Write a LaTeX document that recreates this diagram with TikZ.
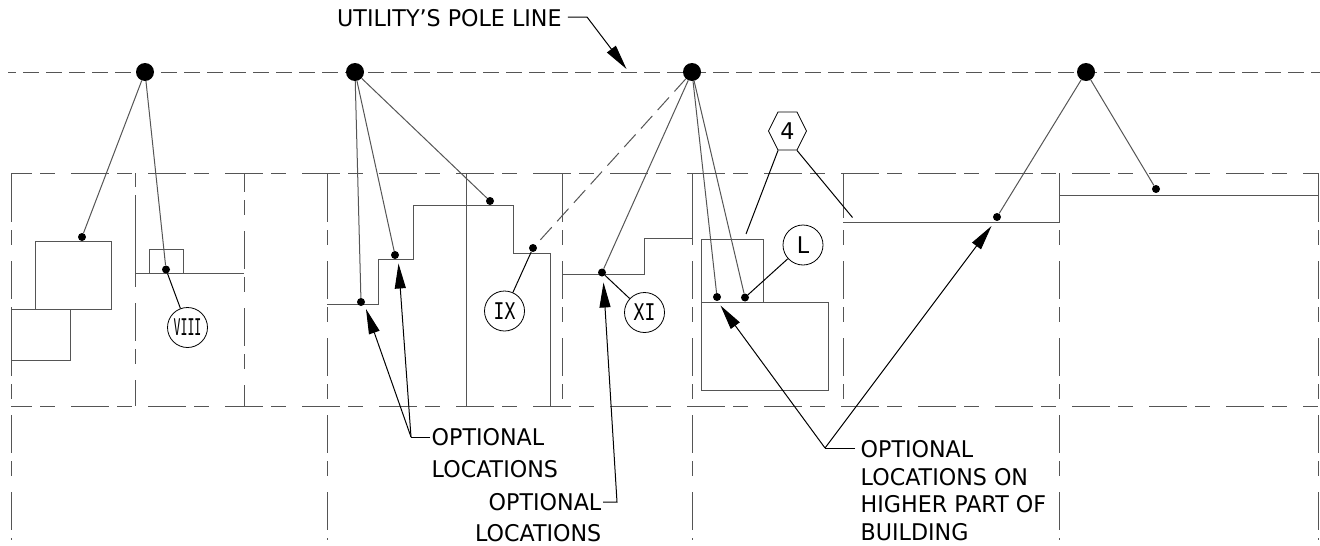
\documentclass[tikz,border=0pt]{standalone}
\usepackage{fontspec}
\setmainfont{DejaVu Sans}[FakeStretch=0.965]
\newfontfamily\numfont{DejaVu Sans Mono}
\usetikzlibrary{arrows.meta,shapes.symbols}
\definecolor{linegray}{HTML}{555555}
\tikzset{
    pole/.style={circle,fill=black,minimum size=18pt,inner sep=0},
    tap/.style={circle,fill=black,minimum size=8pt,inner sep=0},
    tagc/.style={circle,draw=black,thick,minimum size=40pt,inner sep=0,font=\fontsize{23}{23}\selectfont},
    taghex/.style={signal,signal to=west and east,signal pointer angle=127,draw=black,thick,minimum width=38pt,minimum height=38pt,inner sep=0,font=\fontsize{23}{23}\selectfont},
    note/.style={inner sep=0,font=\fontsize{23}{31.5}\selectfont},
    part/.style={draw=linegray,line width=1pt},
    wire/.style={draw=linegray,line width=1pt},
    lead/.style={draw=black,line width=1pt},
    tipped/.style={lead,-{Triangle[length=25pt,width=11pt]}},
    bldg/.style={draw=linegray,line width=1pt,dash pattern=on 38pt off 8pt on 15pt off 16pt}
}

\begin{document}
\begin{tikzpicture}[x=1pt,y=-1pt]
    \useasboundingbox (0,0) rectangle (1320,546);
    % pole line and lot lines
    \draw[linegray,line width=1pt,dash pattern=on 15.5pt off 7.5pt,dash phase=8pt] (8,72) -- (1320,72);
    \draw[bldg,dash phase=17pt] (11,173.5) -- (1318,173.5);
    \draw[bldg,dash phase=17pt] (11,406.5) -- (1318,406.5);
    \draw[bldg,dash phase=38pt] (11,222) -- (11,540);
    \draw[bldg,dash phase=24pt] (135,173) -- (135,406);
    \draw[bldg,dash phase=19pt] (244,173) -- (244,406);
    \draw[bldg,dash phase=38pt] (327,222) -- (327,540);
    \draw[bldg,dash phase=38pt] (562.5,222) -- (562.5,406);
    \draw[bldg,dash phase=38pt] (692,222) -- (692,540);
    \draw[bldg,dash phase=38pt] (843,222) -- (843,406);
    \draw[bldg,dash phase=38pt] (1059,222) -- (1059,540);
    \draw[bldg,dash phase=38pt] (1318,222) -- (1318,540);
    % walls
    \draw[part] (11,173) -- (11,222);
    \draw[part] (135,195) -- (135,273);
    \draw[part] (327,173) -- (327,222);
    \draw[part] (562.5,173) -- (562.5,222);
    \draw[part] (692,173) -- (692,238);
    \draw[part] (843,173) -- (843,218);
    \draw[part] (1318,173) -- (1318,222);
    % buildings
    \draw[part] (35,241.5) rectangle (111,309);
    \draw[part] (11,309) rectangle (70,360);
    \draw[part] (135,273) -- (244,273);
    \draw[part] (149.5,249) rectangle (183.5,273);
    \draw[part] (327,304) -- (378.5,304) -- (378.5,259) -- (413,259) -- (413,205) -- (513,205) -- (513,253.5) -- (550,253.5) -- (550,406);
    \draw[part] (466,173) -- (466,406);
    \draw[part] (562.5,274.5) -- (644.5,274.5) -- (644.5,238) -- (692,238);
    \draw[part] (701.5,302) -- (701.5,239) -- (763,239) -- (763,302);
    \draw[part] (701.5,302) rectangle (828,390);
    \draw[part] (843,222) -- (1059,222) -- (1059,173);
    \draw[part] (1059,195) -- (1318,195);
    % poles and taps
    \node[pole] (pa) at (145,72) {};
    \node[pole] (pb) at (355,72) {};
    \node[pole] (pc) at (692,72) {};
    \node[pole] (pd) at (1086,72) {};
    \node[tap] (ta) at (82,237) {};
    \node[tap] (tb) at (166,269.5) {};
    \node[tap] (tc) at (361,302) {};
    \node[tap] (td) at (395,255) {};
    \node[tap] (te) at (490,201) {};
    \node[tap] (tf) at (533,248) {};
    \node[tap] (tg) at (602,272.5) {};
    \node[tap] (th) at (717,297) {};
    \node[tap] (ti) at (745,297.5) {};
    \node[tap] (tj) at (997,217) {};
    \node[tap] (tk) at (1156,189) {};
    \draw[wire] (pa) -- (ta);
    \draw[wire] (pa) -- (tb);
    \draw[wire] (pb) -- (tc);
    \draw[wire] (pb) -- (td);
    \draw[wire] (pb) -- (te);
    \draw[wire,dash pattern=on 17pt off 8pt] (pc) -- (tf);
    \draw[wire] (pc) -- (tg);
    \draw[wire] (pc) -- (th);
    \draw[wire] (pc) -- (ti);
    \draw[wire] (pd) -- (tj);
    \draw[wire] (pd) -- (tk);
    % tags
    \node[tagc] (viii) at (187.5,327.5) {\numfont\scalebox{0.5}[1]{VIII}};
    \node[tagc] (ix) at (504.5,311) {\numfont\scalebox{0.78}[1]{IX}};
    \node[tagc] (xi) at (644.5,312.5) {\numfont\scalebox{0.78}[1]{XI}};
    \node[tagc] (ell) at (803,245) {L};
    \node[taghex] (four) at (787.5,131) {4};
    \coordinate (fourl) at (746,234);
    \coordinate (fourr) at (852.5,217.5);
    \draw[lead] (tb) -- (viii);
    \draw[lead] (tf) -- (ix);
    \draw[lead] (tg) -- (xi);
    \draw[lead] (ti) -- (ell);
    \draw[lead] (four.-116) -- (fourl);
    \draw[lead] (four.-64) -- (fourr);
    % notes
    \node[note,anchor=west] (poleline) at (337,18) {UTILITY’S POLE LINE};
    \node[note,anchor=north west,align=left] (opta) at (431.5,428.5) {OPTIONAL\\LOCATIONS};
    \node[note,anchor=north east,align=right] (optb) at (601.5,493) {OPTIONAL\\LOCATIONS};
    \node[note,anchor=north west,align=left,font=\fontsize{23}{27.8}\selectfont] (optc) at (860.5,440) {OPTIONAL\\LOCATIONS ON\\HIGHER PART OF\\BUILDING};
    \coordinate (jz) at (587,17);
    \coordinate (jztip) at (626.5,69);
    \draw[tipped] (poleline.east) ++(6,-1) -- (jz) -- (jztip);
    \coordinate (ja) at (411,437);
    \coordinate (jatipa) at (366,309);
    \coordinate (jatipb) at (398.5,263.5);
    \draw[lead] (430,437) -- (ja);
    \draw[tipped] (ja) -- (jatipa);
    \draw[tipped] (ja) -- (jatipb);
    \coordinate (jb) at (617,502);
    \coordinate (jbtip) at (603.5,282.5);
    \draw[tipped] (603,502) -- (jb) -- (jbtip);
    \coordinate (jc) at (825,448);
    \coordinate (jctipa) at (720.5,305.5);
    \coordinate (jctipb) at (991.5,226);
    \draw[lead] (855,448) -- (jc);
    \draw[tipped] (jc) -- (jctipa);
    \draw[tipped] (jc) -- (jctipb);
\end{tikzpicture}
\end{document}
